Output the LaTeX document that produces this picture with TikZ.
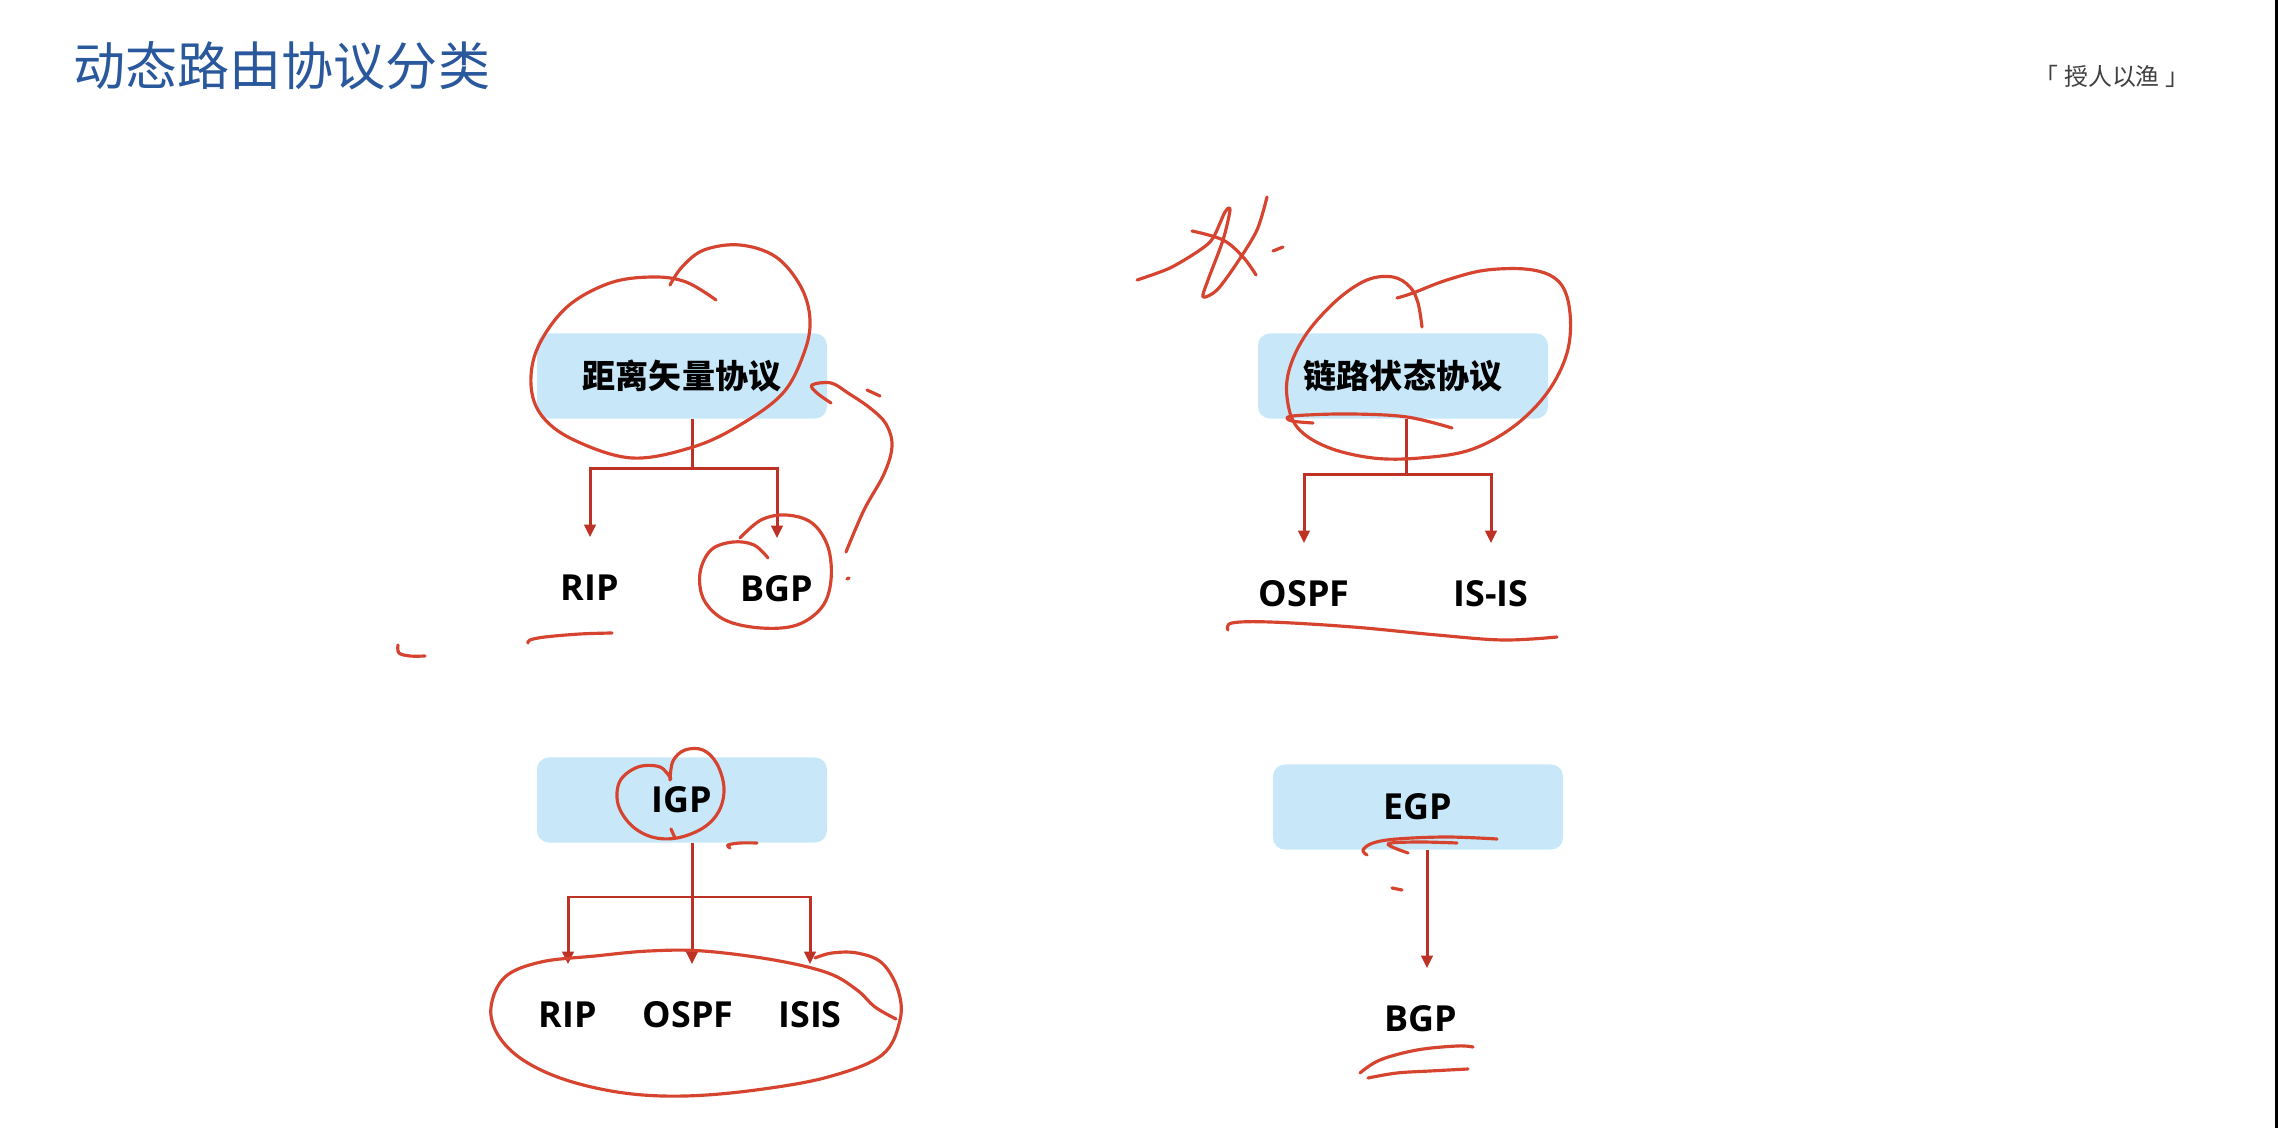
\documentclass[tikz,border=0pt]{standalone}
\usepackage{fontspec}
\setmainfont{Open Sans}
\newfontfamily\cjk{Noto Sans CJK SC}
\usetikzlibrary{arrows.meta}

\definecolor{titleblue}{RGB}{41,88,156}
\definecolor{boxblue}{RGB}{200,232,250}
\definecolor{linkred}{RGB}{190,50,38}
\definecolor{penred}{RGB}{214,68,48}

\begin{document}
\begin{tikzpicture}
  [
    x = 0.01cm, y = -0.01cm,   % one unit = one pixel, y going down
    box/.style = {fill = boxblue, rounded corners = 0.12cm, inner sep = 0pt,
                  minimum width = 2.9cm, minimum height = 0.85cm,
                  font = \cjk\bfseries\fontsize{9.4}{11}\selectfont},
    latinbox/.style = {box, font = \bfseries\fontsize{10.2}{12}\selectfont},
    proto/.style = {inner sep = 0pt, text height = 7.4pt, text depth = 0pt,
                    font = \bfseries\fontsize{10.2}{12}\selectfont},
    link/.style = {draw = linkred, line width = 0.85pt, shorten >= 0.36cm,
                   -{Triangle[length = 3.6pt, width = 3.2pt]}},
    pen/.style = {draw = penred, line width = 0.9pt, line cap = round,
                  line join = round}
  ]
  \fill[white] (0,0) rectangle (2278,1128);
  \useasboundingbox (0,0) rectangle (2278,1128);
  \draw[line width = 0.05cm] (2277,0) -- (2277,1128);

  \node[anchor = west, text = titleblue, inner sep = 0pt,
        font = \cjk\fontsize{14.8}{18}\selectfont] (title) at (73,66) {动态路由协议分类};
  \node[text = black!75, inner sep = 0pt,
        font = \cjk\fontsize{6.8}{8}\selectfont] (motto) at (2112,76) {「 授人以渔 」};

  % distance vector
  \node[box] (dv) at (682,376) {距离矢量协议};
  \node[proto] (rip1) at (590,587) {RIP};
  \node[proto] (bgp1) at (777,588) {BGP};
  \coordinate (dvfork) at (692,469);
  \draw[link] (dv.south -| dvfork) -- (dvfork) -| (rip1.north);
  \draw[link] (dvfork) -| (bgp1.north);

  % link state
  \node[box] (ls) at (1403,376) {链路状态协议};
  \node[proto] (ospf1) at (1304,593) {OSPF};
  \node[proto] (isis1) at (1491,593) {IS-IS};
  \coordinate (lsfork) at (1406,475);
  \draw[link] (ls.south -| lsfork) -- (lsfork) -| (ospf1.north);
  \draw[link] (lsfork) -| (isis1.north);

  % igp
  \node[latinbox] (igp) at (682,800) {IGP};
  \node[proto] (rip2) at (568,1014) {RIP};
  \node[proto] (ospf2) at (688,1014) {OSPF};
  \node[proto] (isis2) at (810,1014) {ISIS};
  \coordinate (igpfork) at (692,897);
  \draw[link] (igp.south -| igpfork) -- (igpfork |- ospf2.north);
  \draw[link] (igpfork) -| (rip2.north);
  \draw[link] (igpfork) -| (isis2.north);

  % egp
  \node[latinbox] (egp) at (1418,807) {EGP};
  \node[proto] (bgp2) at (1421,1018) {BGP};
  \coordinate (egpstem) at (1427,900);
  \draw[link] (egp.south -| egpstem) -- (egpstem |- bgp2.north);

  % pen marks
  \draw[pen] plot[smooth, tension = 0.6] coordinates {(716,300) (686,282) (653,277) (610,283) (567,307) (538,347) (531,385) (542,416) (574,440) (632,458) (693,447) (740,425) (783,393) (804,353) (810,320) (801,287) (776,257) (740,245) (704,250) (682,267) (670,285)};
  \draw[pen] plot[smooth, tension = 0.6] coordinates {(846,552) (864,510) (884,474) (892,446) (886,424) (870,408) (848,393) (831,383) (812,385) (817,393) (831,403)};
  \draw[pen] (867,390) -- (880,396);
  \draw[pen] (847,579) -- (849,578);
  \draw[pen] plot[smooth, tension = 0.6] coordinates {(740,538) (761,520) (786,515) (812,523) (828,547) (831,580) (822,607) (797,625) (761,628) (725,620) (704,600) (700,573) (711,550) (733,542) (754,545) (768,558)};
  \draw[pen] plot[smooth, tension = 0.6] coordinates {(612,633) (580,634) (545,637) (530,640) (528,643)};
  \draw[pen] plot[smooth, tension = 0.6] coordinates {(398,645) (399,653) (410,656) (425,656)};

  \draw[pen] plot[smooth, tension = 0.5] coordinates {(1137,280) (1170,268) (1200,250) (1213,238) (1225,212) (1230,210) (1223,240) (1208,280) (1203,297) (1217,290) (1237,263) (1257,230) (1267,197)};
  \draw[pen] plot[smooth, tension = 0.6] coordinates {(1192,231) (1223,240) (1243,257) (1256,275)};
  \draw[pen] (1273,251) -- (1283,247);
  \draw[pen] plot[smooth, tension = 0.6] coordinates {(1422,327) (1418,303) (1410,287) (1393,277) (1367,280) (1337,300) (1307,333) (1290,367) (1287,397) (1297,427) (1327,447) (1373,458) (1420,458) (1470,450) (1513,427) (1547,393) (1567,353) (1570,313) (1560,283) (1533,270) (1487,270) (1447,280) (1413,293) (1397,298)};
  \draw[pen] plot[smooth, tension = 0.6] coordinates {(1452,428) (1407,417) (1353,414) (1307,415) (1288,417) (1292,421) (1313,423)};
  \draw[pen] plot[smooth, tension = 0.6] coordinates {(1228,630) (1232,623) (1270,622) (1353,627) (1437,635) (1503,640) (1557,637)};

  \draw[pen] plot[smooth, tension = 0.6] coordinates {(670,780) (673,761) (685,750) (703,750) (717,764) (724,788) (719,811) (703,828) (677,838) (652,837) (631,825) (618,804) (620,781) (638,767) (660,767) (671,779)};
  \draw[pen] (671,829) -- (675,838);
  \draw[pen] plot[smooth, tension = 0.6] coordinates {(730,848) (728,845) (740,843) (757,843)};
  \draw[pen] plot[smooth, tension = 0.6] coordinates {(896,1019) (875,1007) (857,990) (828,973) (774,960) (703,951) (649,951) (595,956) (541,962) (505,977) (491,1007) (498,1035) (523,1060) (566,1080) (624,1093) (685,1096) (756,1090) (828,1077) (882,1055) (900,1020) (898,990) (882,963) (857,953) (832,953) (815,958)};

  \draw[pen] plot[smooth, tension = 0.6] coordinates {(1497,839) (1447,837) (1397,839) (1373,843) (1363,850) (1367,855)};
  \draw[pen] plot[smooth, tension = 0.6] coordinates {(1457,843) (1417,842) (1388,844) (1408,853)};
  \draw[pen] (1392,888) -- (1402,890);
  \draw[pen] plot[smooth, tension = 0.6] coordinates {(1360,1073) (1380,1060) (1417,1050) (1457,1046) (1473,1047)};
  \draw[pen] plot[smooth, tension = 0.6] coordinates {(1368,1078) (1397,1073) (1430,1071) (1468,1069)};
\end{tikzpicture}
\end{document}
